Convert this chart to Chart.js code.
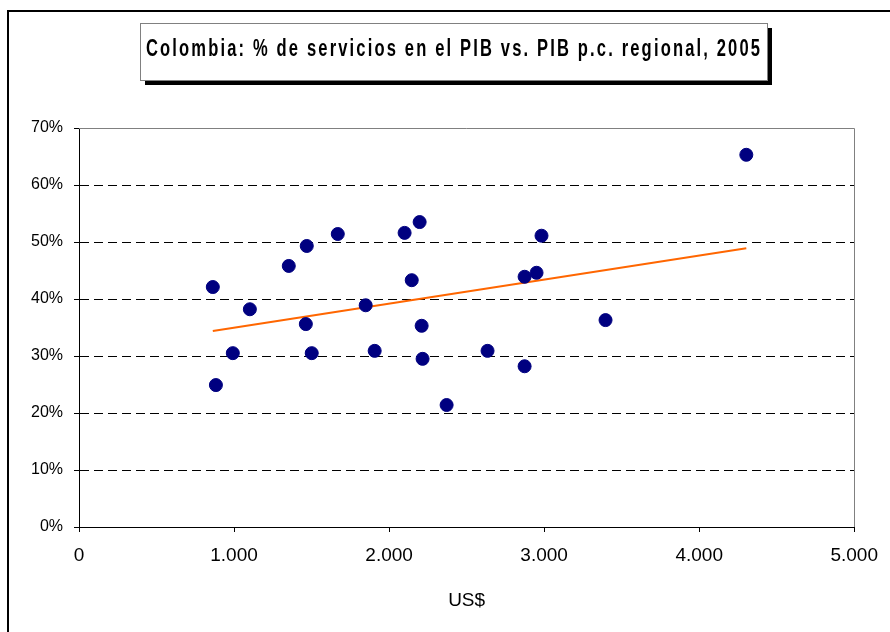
<!DOCTYPE html>
<html>
<head>
<meta charset="utf-8">
<script src="https://cdn.jsdelivr.net/npm/chart.js@4"></script>
<style>
  html, body { margin: 0; padding: 0; background: #fff; }
  #wrap { width: 890px; height: 632px; position: relative; }
</style>
</head>
<body>
<div id="wrap"><canvas id="myChart" width="890" height="632"></canvas></div>
<script>
// datos: PIB p.c. regional (US$) y % de servicios en el PIB
const pibPc = [863, 883, 992, 1102, 1353, 1463, 1469, 1501, 1669, 1849, 1907, 2100,
               2146, 2197, 2210, 2216, 2371, 2635, 2874, 2874, 2951, 2983, 3396, 4304];
const servicios = [42.1, 24.9, 30.5, 38.2, 45.8, 35.6, 49.3, 30.5, 51.4, 38.9, 30.9, 51.6,
                   43.3, 53.5, 35.3, 29.5, 21.4, 30.9, 43.9, 28.2, 44.6, 51.1, 36.3, 65.3];
// linea de tendencia (extremos leidos)
const trendX = [863, 4304];
const trendY = [34.4, 48.9];

const xTicks = [0, 1000, 2000, 3000, 4000, 5000];
const yTicks = [0, 10, 20, 30, 40, 50, 60, 70];

const title = "Colombia: % de servicios en el PIB vs. PIB p.c. regional, 2005";

const puntos = pibPc.map((x, i) => ({ x: x, y: servicios[i] }));
const tendencia = trendX.map((x, i) => ({ x: x, y: trendY[i] }));

// marco, caja del titulo y borde gris del area de trazado
const decor = {
  id: "decor",
  beforeDraw(chart) {
    const ctx = chart.ctx;
    ctx.save();
    ctx.fillStyle = "#fff";
    ctx.fillRect(0, 0, chart.width, chart.height);
    // marco exterior
    ctx.strokeStyle = "#000";
    ctx.lineWidth = 2;
    ctx.beginPath();
    ctx.moveTo(8, 632);
    ctx.lineTo(8, 11);
    ctx.lineTo(890, 11);
    ctx.stroke();
    // sombra + caja del titulo
    ctx.fillStyle = "#000";
    ctx.fillRect(145, 28, 627, 57);
    ctx.fillStyle = "#fff";
    ctx.fillRect(140, 23, 627, 57);
    ctx.strokeStyle = "#808080";
    ctx.lineWidth = 1;
    ctx.strokeRect(140.5, 23.5, 627, 57);
    // texto del titulo
    ctx.fillStyle = "#000";
    ctx.font = "bold 23px 'Liberation Sans', Arial, sans-serif";
    ctx.textBaseline = "alphabetic";
    ctx.textAlign = "left";
    ctx.letterSpacing = "3px";
    const w = ctx.measureText(title).width - 3;
    const target = 614;
    ctx.translate(146, 56);
    ctx.scale(target / w, 1);
    ctx.fillText(title, 0, 0);
    ctx.restore();
  },
  beforeDatasetsDraw(chart) {
    const a = chart.chartArea;
    const ctx = chart.ctx;
    ctx.save();
    ctx.strokeStyle = "#808080";
    ctx.lineWidth = 1;
    ctx.beginPath();
    ctx.moveTo(a.left, Math.round(a.top) + 0.5);
    ctx.lineTo(Math.round(a.right) + 0.5, Math.round(a.top) + 0.5);
    ctx.lineTo(Math.round(a.right) + 0.5, a.bottom);
    ctx.stroke();
    ctx.restore();
  }
};

const data = {
  datasets: [
    {
      type: "scatter",
      label: "servicios",
      data: puntos,
      backgroundColor: "#000080",
      borderColor: "#000080",
      pointRadius: 6.5,
      pointHoverRadius: 6.5,
      order: 1
    },
    {
      type: "line",
      label: "tendencia",
      data: tendencia,
      borderColor: "#FF6600",
      borderWidth: 2,
      pointRadius: 0,
      fill: false,
      order: 2
    }
  ]
};

const config = {
  type: "scatter",
  data: data,
  options: {
    responsive: false,
    animation: false,
    layout: { padding: { left: 0, right: 35, top: 128, bottom: 0 } },
    plugins: {
      legend: { display: false },
      tooltip: { enabled: false }
    },
    scales: {
      x: {
        type: "linear",
        min: 0,
        max: 5000,
        afterBuildTicks(scale) { scale.ticks = xTicks.map(v => ({ value: v })); },
        afterFit(scale) { scale.height = 105; },
        ticks: {
          color: "#000",
          font: { family: "'Liberation Sans', Arial, sans-serif", size: 19 },
          padding: 12,
          maxRotation: 0,
          callback: v => v === 0 ? "0" : (v / 1000).toFixed(0) + ".000"
        },
        grid: {
          drawOnChartArea: false,
          drawTicks: true,
          tickLength: 5,
          tickColor: "#000",
          tickWidth: 1
        },
        border: { display: true, color: "#000", width: 1 },
        title: {
          display: true,
          text: "US$",
          color: "#000",
          font: { family: "'Liberation Sans', Arial, sans-serif", size: 19 },
          padding: { top: 0, bottom: 20 }
        }
      },
      y: {
        type: "linear",
        min: 0,
        max: 70,
        afterBuildTicks(scale) { scale.ticks = yTicks.map(v => ({ value: v })); },
        afterFit(scale) { scale.width = 79; },
        ticks: {
          color: "#000",
          font: { family: "'Liberation Sans', Arial, sans-serif", size: 16 },
          padding: 11,
          callback: v => v + "%"
        },
        grid: {
          color: ctx => (ctx.tick && (ctx.tick.value === 0 || ctx.tick.value === 70)) ? "rgba(0,0,0,0)" : "#000",
          lineWidth: 1,
          tickLength: 5,
          tickColor: "#000",
          tickBorderDash: [],
          tickWidth: 1
        },
        border: { display: true, color: "#000", width: 1, dash: [9, 5] }
      }
    }
  },
  plugins: [decor]
};

const mtChart = new Chart(document.getElementById("myChart"), config);
</script>
</body>
</html>
